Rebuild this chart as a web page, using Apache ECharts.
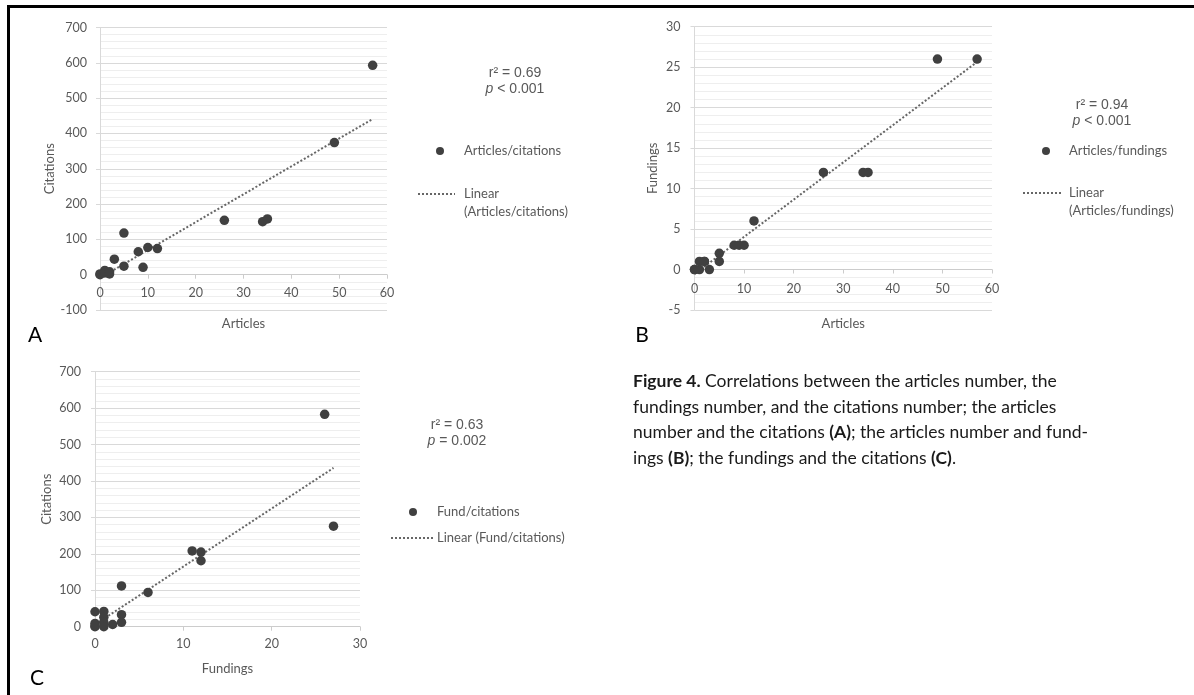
<!DOCTYPE html>
<html>
<head>
<meta charset="utf-8">
<script src="https://cdn.jsdelivr.net/npm/echarts@6/dist/echarts.min.js"></script>
<style>
  html, body { margin: 0; padding: 0; background: #ffffff; }
  #chart { width: 1194px; height: 695px; }
</style>
</head>
<body>
<div id="chart"></div>
<script>
// Panel A: articles vs citations
const articlesA  = [0, 0, 1, 1, 2, 2, 3, 5, 5, 8, 9, 10, 12, 26, 34, 35, 49, 57];
const citationsA = [0, 2, 12, 5, 8, 2, 44, 118, 24, 65, 21, 77, 74, 154, 150, 158, 374, 593];

// Panel B: articles vs fundings
const articlesB  = [0, 0, 1, 1, 2, 2, 3, 5, 5, 8, 9, 10, 12, 26, 34, 35, 49, 57];
const fundingsB  = [0, 0, 0, 1, 1, 1, 0, 1, 2, 3, 3, 3, 6, 12, 12, 12, 26, 26];

// Panel C: fundings vs citations
const fundingsC  = [0, 0, 0, 0, 1, 1, 1, 1, 2, 3, 3, 3, 6, 11, 12, 12, 26, 27];
const citationsC = [41, 9, 0, 2, 42, 26, 12, 0, 6, 112, 33, 12, 94, 208, 205, 181, 583, 276];

// Axis ranges and tick steps
const xTicksA = { min: 0, max: 60, interval: 10 };
const yTicksA = { min: -100, max: 700, interval: 100 };
const xTicksB = { min: 0, max: 60, interval: 10 };
const yTicksB = { min: -5, max: 30, interval: 5 };
const xTicksC = { min: 0, max: 30, interval: 10 };
const yTicksC = { min: 0, max: 700, interval: 100 };

// Statistics and legend texts
const statsA = ['0.69', '< 0.001'];
const statsB = ['0.94', '< 0.001'];
const statsC = ['0.63', '= 0.002'];
const seriesNames = ['Articles/citations', 'Articles/fundings', 'Fund/citations'];

const pairs = (xs, ys) => xs.map((x, i) => [x, ys[i]]);

// Least-squares line across the range of x values
function linearFit(xs, ys) {
  const n = xs.length;
  const mx = xs.reduce((a, b) => a + b, 0) / n;
  const my = ys.reduce((a, b) => a + b, 0) / n;
  let sxx = 0, sxy = 0;
  for (let i = 0; i < n; i++) {
    sxx += (xs[i] - mx) * (xs[i] - mx);
    sxy += (xs[i] - mx) * (ys[i] - my);
  }
  const b = sxy / sxx, a = my - b * mx;
  const lo = Math.min(...xs), hi = Math.max(...xs);
  return [[lo, a + b * lo], [hi, a + b * hi]];
}

const FONT = 'Lato, "Open Sans", sans-serif';
const STAT_FONT = '"Liberation Sans", Arial, sans-serif';
const AXIS_GREY = '#595959';
const GRID_MAJOR = '#d9d9d9';
const GRID_MINOR = '#eeeeee';
const MARK = '#404040';
const TREND = '#666666';

const grids = [
  { left: 100, top: 27.5, width: 287, height: 282.5 },
  { left: 694.5, top: 26.7, width: 297.5, height: 283.3 },
  { left: 95, top: 371.7, width: 265, height: 255 }
];

function xAxisOf(idx, t, name, nameGap, labelMargin) {
  return {
    type: 'value', gridIndex: idx, min: t.min, max: t.max, interval: t.interval,
    name: name, nameLocation: 'middle', nameGap: nameGap,
    nameTextStyle: { color: AXIS_GREY, fontFamily: FONT, fontSize: 13 },
    axisLine: { onZero: false, lineStyle: { color: '#cccccc', width: 1 } },
    axisTick: { show: true, length: 4, inside: false, lineStyle: { color: '#cccccc' } },
    axisLabel: { color: AXIS_GREY, fontFamily: FONT, fontSize: 12.5, margin: labelMargin },
    splitLine: { show: false }
  };
}

function yAxisOf(idx, t, name, nameGap, labelMargin) {
  return {
    type: 'value', gridIndex: idx, min: t.min, max: t.max, interval: t.interval,
    name: name, nameLocation: 'middle', nameGap: nameGap, nameRotate: 90,
    nameTextStyle: { color: AXIS_GREY, fontFamily: FONT, fontSize: 13 },
    axisLine: { show: true, onZero: false, lineStyle: { color: GRID_MAJOR, width: 1 } },
    axisTick: { show: true, length: 4, lineStyle: { color: GRID_MAJOR } },
    axisLabel: { color: AXIS_GREY, fontFamily: FONT, fontSize: 12.5, margin: labelMargin },
    splitLine: { show: true, lineStyle: { color: GRID_MAJOR, width: 1 } },
    minorTick: { show: false, splitNumber: 5 },
    minorSplitLine: { show: true, lineStyle: { color: GRID_MINOR, width: 1 } }
  };
}

function scatterOf(idx, name, xs, ys) {
  return {
    type: 'scatter', name: name, xAxisIndex: idx, yAxisIndex: idx,
    data: pairs(xs, ys), symbol: 'circle', symbolSize: 9.5,
    itemStyle: { color: MARK, opacity: 1 }, z: 3, silent: true
  };
}

function trendOf(idx, xs, ys) {
  return {
    type: 'line', name: 'Linear (' + seriesNames[idx] + ')', xAxisIndex: idx, yAxisIndex: idx,
    data: linearFit(xs, ys), showSymbol: false, symbol: 'none',
    lineStyle: { color: TREND, width: 2, type: [2, 2] }, z: 2, silent: true
  };
}

// Legend blocks and panel annotations
function statText(cx, y, r2, p) {
  return [
    { type: 'text', x: cx, y: y, style: {
      text: 'r² = ' + r2, fill: AXIS_GREY, font: '14px ' + STAT_FONT,
      textAlign: 'center', textVerticalAlign: 'middle' } },
    { type: 'text', x: cx, y: y + 16.5, style: {
      text: '{i|p} ' + p, fill: AXIS_GREY, font: '14px ' + STAT_FONT,
      textAlign: 'center', textVerticalAlign: 'middle',
      rich: { i: { fontStyle: 'italic', fontFamily: STAT_FONT, fontSize: 14, fill: AXIS_GREY } } } }
  ];
}

function legendBlock(mx, my, lx1, lx2, ly, tx, label, linearText) {
  return [
    { type: 'circle', shape: { cx: mx, cy: my, r: 4 }, style: { fill: MARK } },
    { type: 'text', x: tx, y: my, style: { text: label, fill: AXIS_GREY, font: '13px ' + FONT, textVerticalAlign: 'middle' } },
    { type: 'line', shape: { x1: lx1, y1: ly, x2: lx2, y2: ly }, style: { stroke: TREND, lineWidth: 2, lineDash: [2, 2] } },
    { type: 'text', x: tx, y: ly - 8.5, style: { text: linearText, fill: AXIS_GREY, font: '13px ' + FONT, textVerticalAlign: 'top', lineHeight: 17.5 } }
  ];
}

const panelLetter = (x, y, s) => ({ type: 'text', x: x, y: y, style: {
  text: s, fill: '#000', font: '21px ' + FONT, textAlign: 'center', textVerticalAlign: 'middle' } });

const captionText =
  '{b|Figure 4.} Correlations between the articles number, the\n' +
  'fundings number, and the citations number; the articles\n' +
  'number and the citations {b|(A)}; the articles number and fund-\n' +
  'ings {b|(B)}; the fundings and the citations {b|(C)}.';

const chart = echarts.init(document.getElementById('chart'), null, { renderer: 'canvas' });

chart.setOption({
  backgroundColor: '#ffffff',
  animation: false,
  grid: grids,
  xAxis: [
    xAxisOf(0, xTicksA, 'Articles', 43, 11.5),
    xAxisOf(1, xTicksB, 'Articles', 48, 12.5),
    xAxisOf(2, xTicksC, 'Fundings', 36, 11)
  ],
  yAxis: [
    yAxisOf(0, yTicksA, 'Citations', 32, 13),
    yAxisOf(1, yTicksB, 'Fundings', 35, 14),
    yAxisOf(2, yTicksC, 'Citations', 42, 14)
  ],
  series: [
    trendOf(0, articlesA, citationsA),
    scatterOf(0, seriesNames[0], articlesA, citationsA),
    trendOf(1, articlesB, fundingsB),
    scatterOf(1, seriesNames[1], articlesB, fundingsB),
    trendOf(2, fundingsC, citationsC),
    scatterOf(2, seriesNames[2], fundingsC, citationsC)
  ],
  graphic: [
    // frame
    { type: 'line', shape: { x1: 8, y1: 6.5, x2: 1194, y2: 6.5 }, style: { stroke: '#000', lineWidth: 3 } },
    { type: 'line', shape: { x1: 8.5, y1: 5, x2: 8.5, y2: 695 }, style: { stroke: '#000', lineWidth: 3 } },
    panelLetter(35, 335, 'A'),
    panelLetter(642, 335, 'B'),
    panelLetter(37, 678, 'C'),
    ...statText(515, 73, statsA[0], statsA[1]),
    ...legendBlock(440, 151, 418, 455, 194, 464, seriesNames[0], 'Linear\n(' + seriesNames[0] + ')'),
    ...statText(1102, 105, statsB[0], statsB[1]),
    ...legendBlock(1046, 151, 1023, 1061, 193, 1069, seriesNames[1], 'Linear\n(' + seriesNames[1] + ')'),
    ...statText(457, 425, statsC[0], statsC[1]),
    ...legendBlock(413, 512, 391, 433, 538, 437, seriesNames[2], 'Linear (' + seriesNames[2] + ')'),
    { type: 'text', x: 633, y: 369, style: {
      text: captionText, fill: '#1a1a1a', font: '17.5px ' + FONT, lineHeight: 25.5, textVerticalAlign: 'top',
      rich: { b: { fontWeight: 'bold', fontFamily: FONT, fontSize: 17.5, fill: '#1a1a1a', lineHeight: 25.5 } } } }
  ]
});

// Place each x axis on the y = 0 line of its grid, using the grid's own scale
const xAxisOffsets = grids.map((g, i) => {
  const zeroY = chart.convertToPixel({ gridIndex: i }, [0, 0])[1];
  return -((g.top + g.height) - zeroY);
});
chart.setOption({ xAxis: xAxisOffsets.map(o => ({ offset: o })) });
</script>
</body>
</html>
